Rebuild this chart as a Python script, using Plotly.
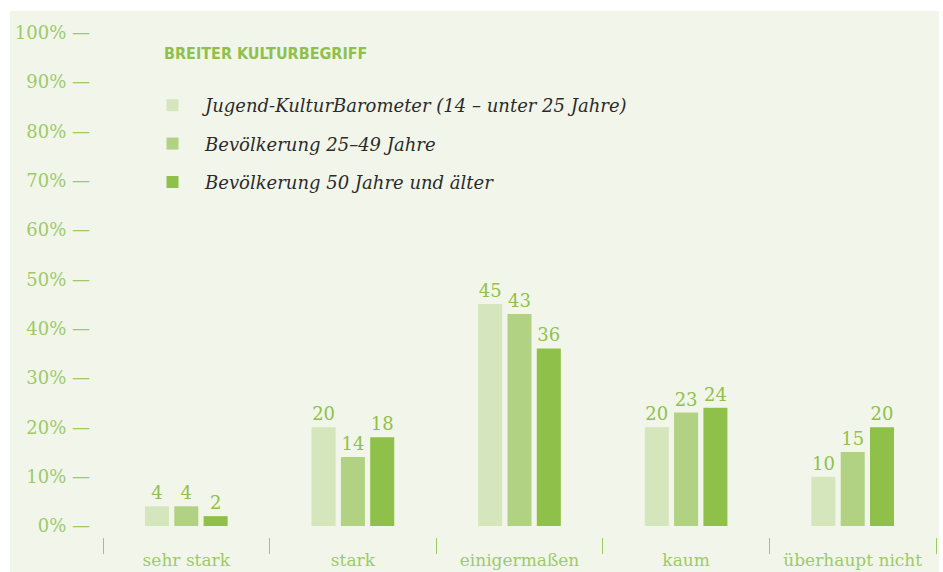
import plotly.graph_objects as go

# Data
categories = ["sehr stark", "stark", "einigermaßen", "kaum", "überhaupt nicht"]
series_names = [
    "Jugend-KulturBarometer (14 – unter 25 Jahre)",
    "Bevölkerung 25–49 Jahre",
    "Bevölkerung 50 Jahre und älter",
]
jugend = [4, 20, 45, 20, 10]
bev_25_49 = [4, 14, 43, 23, 15]
bev_50 = [2, 18, 36, 24, 20]
y_ticks = [0, 10, 20, 30, 40, 50, 60, 70, 80, 90, 100]
y_tick_labels = [f"{v}% —" for v in y_ticks]

# Styles
bar_colors = ["#d5e5bc", "#b1d283", "#8fc14a"]
panel_color = "#f2f6ea"
label_green = "#8fc14a"
tick_green = "#9dca69"
serif = "DejaVu Serif"

W, H = 943, 572
ml, mr, mt, mb = 103, 7, 23, 35
plot_w = W - ml - mr
plot_h = H - mt - mb

fig = go.Figure()
for i, (name, vals) in enumerate(zip(series_names, [jugend, bev_25_49, bev_50])):
    fig.add_trace(go.Bar(
        x=categories,
        y=vals,
        name=name,
        legendgroup=f"g{i}",
        marker=dict(color=bar_colors[i], line=dict(width=0)),
        text=vals,
        texttemplate="%{text}",
        textposition="outside",
        textfont=dict(family=serif, size=18, color=label_green),
        cliponaxis=False,
        hoverinfo="skip",
    ))

# Light green panel behind the chart (white frame around it)
fig.add_shape(
    type="rect", xref="paper", yref="paper", layer="below",
    x0=(10 - ml) / plot_w, x1=(939 - ml) / plot_w,
    y0=-mb / plot_h, y1=(H - mb - 11) / plot_h,
    fillcolor=panel_color, line=dict(width=0),
)

fig.add_annotation(
    text="<b>BREITER KULTURBEGRIFF</b>",
    xref="paper", yref="paper",
    x=(162 - ml) / plot_w, y=(H - mb - 53) / plot_h,
    xanchor="left", yanchor="middle", showarrow=False,
    font=dict(family="DejaVu Sans Condensed", size=16, color=label_green),
)

fig.update_layout(
    width=W, height=H,
    margin=dict(l=ml, r=mr, t=mt, b=mb, pad=0, autoexpand=False),
    paper_bgcolor="white",
    plot_bgcolor="rgba(0,0,0,0)",
    barmode="group",
    bargap=0.472,
    bargroupgap=0.18,
    showlegend=True,
    legend=dict(
        x=(140 - ml) / plot_w, y=(H - mb - 87) / plot_h,
        xanchor="left", yanchor="top",
        bgcolor="rgba(0,0,0,0)",
        font=dict(family=serif, size=18, color="#2b2b2b", style="italic"),
        traceorder="grouped",
        tracegroupgap=12,
        itemwidth=55,
    ),
    xaxis=dict(
        range=[-0.5, 4.5], automargin=False,
        showline=False, showgrid=False, zeroline=False,
        ticks="outside", tickson="boundaries", ticklen=16,
        tickcolor=tick_green, tickwidth=1,
        tickfont=dict(family=serif, size=17, color=tick_green),
        ticklabelstandoff=11,
    ),
    yaxis=dict(
        range=[-2.23, 102], automargin=False,
        showline=False, showgrid=False, zeroline=False,
        tickmode="array", tickvals=y_ticks, ticktext=y_tick_labels,
        tickfont=dict(family=serif, size=18, color=tick_green),
        ticks="", ticklabelstandoff=12,
    ),
)

fig.write_html("out.html")
